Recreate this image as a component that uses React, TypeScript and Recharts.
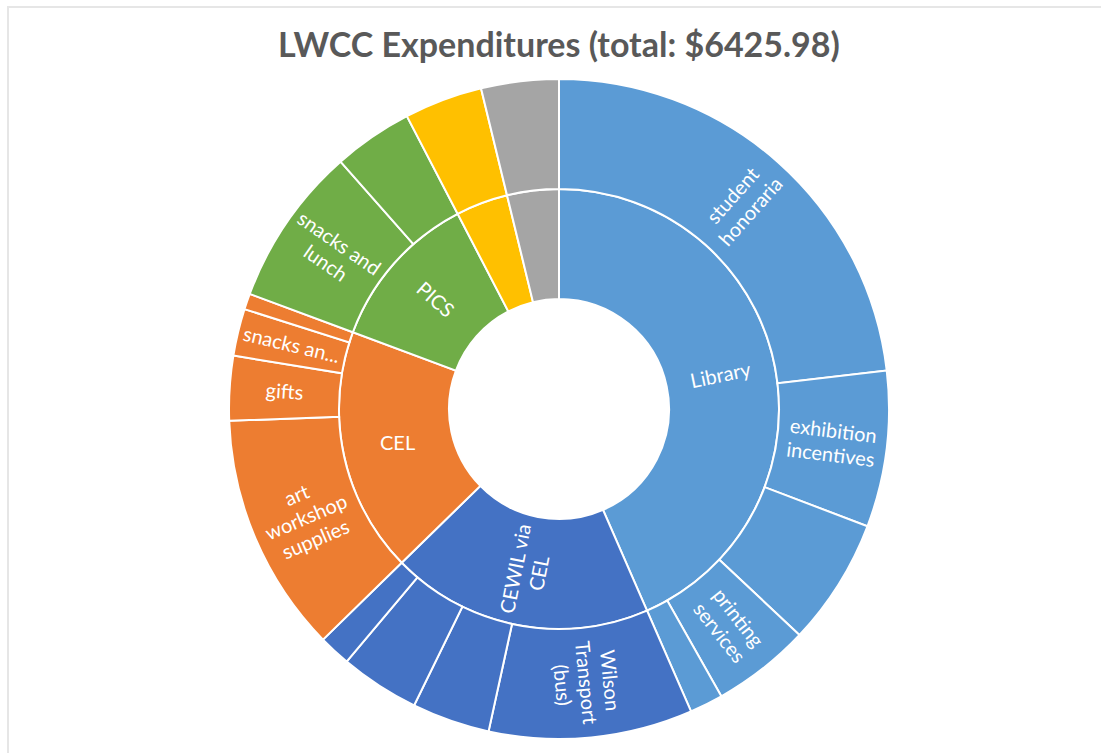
import { PieChart, Pie, Cell } from 'recharts';

// top-level groups (inner ring), in clockwise order from 12 o'clock
const GROUPS = ['Library', 'CEWIL via CEL', 'CEL', 'PICS', 'Other 1', 'Other 2'];
const GROUP_LABELS = [['Library'], ['CEWIL via', 'CEL'], ['CEL'], ['PICS'], [], []];

// leaf items (outer ring)
const ITEMS = [
  'student honoraria', 'exhibition incentives', 'library item 3', 'printing services', 'library item 5',
  'Wilson Transport (bus)', 'CEWIL item 2', 'CEWIL item 3', 'CEWIL item 4',
  'art workshop supplies', 'gifts', 'snacks and refreshments', 'CEL item 4',
  'snacks and lunch', 'PICS item 2',
  'Other 1', 'Other 2',
];
const ITEM_GROUP = [
  'Library', 'Library', 'Library', 'Library', 'Library',
  'CEWIL via CEL', 'CEWIL via CEL', 'CEWIL via CEL', 'CEWIL via CEL',
  'CEL', 'CEL', 'CEL', 'CEL',
  'PICS', 'PICS',
  'Other 1', 'Other 2',
];
const ITEM_VALUES = [
  1487, 491, 400, 309, 105,
  641, 245, 250, 100,
  755, 203, 148, 50,
  502, 250,
  246, 244,
];
const ITEM_LABELS = [
  ['student', 'honoraria'], ['exhibition', 'incentives'], [], ['printing', 'services'], [],
  ['Wilson', 'Transport', '(bus)'], [], [], [],
  ['art', 'workshop', 'supplies'], ['gifts'], ['snacks an...'], [],
  ['snacks and', 'lunch'], [],
  [], [],
];

const GROUP_COLORS: Record<string, string> = {
  'Library': '#5B9BD5',
  'CEWIL via CEL': '#4472C4',
  'CEL': '#ED7D31',
  'PICS': '#70AD47',
  'Other 1': '#FFC000',
  'Other 2': '#A5A5A5',
};
const HORIZONTAL = new Set(['CEL']);
const FONT = 'Lato, "Open Sans", sans-serif';

const innerData = GROUPS.map((g, i) => ({
  name: g,
  lines: GROUP_LABELS[i],
  value: ITEM_VALUES.filter((_, j) => ITEM_GROUP[j] === g).reduce((a, b) => a + b, 0),
}));
const outerData = ITEMS.map((n, i) => ({
  name: n,
  group: ITEM_GROUP[i],
  lines: ITEM_LABELS[i],
  value: ITEM_VALUES[i],
}));

const renderLabel = (data: any[]) => (props: any) => {
  const { cx, cy, midAngle, innerRadius, outerRadius, index } = props;
  const d = data[index];
  if (!d || !d.lines.length) return null;
  const r = (innerRadius + outerRadius) / 2;
  const rad = (-midAngle * Math.PI) / 180;
  const x = cx + r * Math.cos(rad);
  const y = cy + r * Math.sin(rad);
  let rot = -midAngle;
  while (rot <= -180) rot += 360;
  while (rot > 180) rot -= 360;
  if (rot > 90) rot -= 180;
  if (rot < -90) rot += 180;
  if (HORIZONTAL.has(d.name)) rot = 0;
  const fs = 20;
  const lh = 24;
  const n = d.lines.length;
  return (
    <text
      key={`lbl-${d.name}`}
      x={x}
      y={y}
      transform={`rotate(${rot} ${x} ${y})`}
      textAnchor="middle"
      fill="#FFFFFF"
      fontSize={fs}
      fontFamily={FONT}
    >
      {d.lines.map((l: string, i: number) => (
        <tspan key={i} x={x} dy={i === 0 ? -((n - 1) / 2) * lh + fs * 0.35 : lh}>
          {l}
        </tspan>
      ))}
    </text>
  );
};

export default function App() {
  return (
    <div style={{ position: 'absolute', left: 0, top: 0, width: 1101, height: 753, background: '#fff', overflow: 'hidden' }}>
      <div
        style={{
          position: 'absolute', left: 7, top: 6, width: 1100, height: 753,
          borderTop: '2px solid #E6E6E6', borderLeft: '2px solid #E6E6E6',
        }}
      />
      <div
        style={{
          position: 'absolute', left: 0, top: 22, width: 1118, textAlign: 'center',
          fontFamily: FONT, fontWeight: 700, fontSize: 34, lineHeight: '44px', color: '#595959',
        }}
      >
        LWCC Expenditures (total: $6425.98)
      </div>
      <div style={{ position: 'absolute', left: 0, top: 0 }}>
        <PieChart width={1101} height={753} margin={{ top: 0, right: 0, bottom: 0, left: 0 }}>
          <Pie
            data={innerData}
            dataKey="value"
            cx={559}
            cy={409}
            innerRadius={110}
            outerRadius={220}
            startAngle={90}
            endAngle={-270}
            stroke="#FFFFFF"
            strokeWidth={2}
            label={renderLabel(innerData)}
            labelLine={false}
            isAnimationActive={false}
          >
            {innerData.map((d) => (
              <Cell key={`in-${d.name}`} fill={GROUP_COLORS[d.name]} />
            ))}
          </Pie>
          <Pie
            data={outerData}
            dataKey="value"
            cx={559}
            cy={409}
            innerRadius={220}
            outerRadius={330}
            startAngle={90}
            endAngle={-270}
            stroke="#FFFFFF"
            strokeWidth={2}
            label={renderLabel(outerData)}
            labelLine={false}
            isAnimationActive={false}
          >
            {outerData.map((d) => (
              <Cell key={`out-${d.name}`} fill={GROUP_COLORS[d.group]} />
            ))}
          </Pie>
        </PieChart>
      </div>
    </div>
  );
}
